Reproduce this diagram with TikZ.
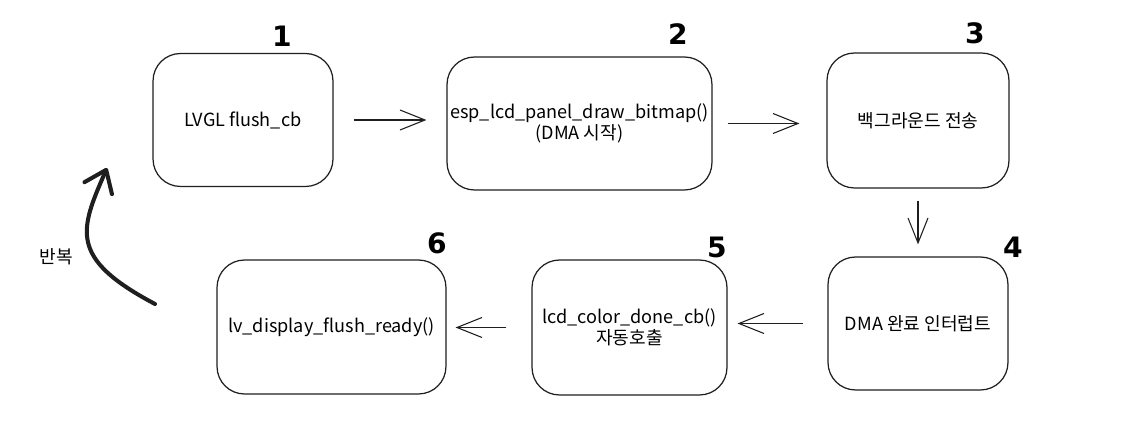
\documentclass[tikz,border=0pt]{standalone}
\usepackage{fontspec}
\setmainfont{Noto Sans CJK KR}
\newfontfamily\numfont{DejaVu Sans}
\usetikzlibrary{arrows.meta}
\definecolor{InkClr}{rgb}{0.12,0.12,0.12}

\begin{document}
\begin{tikzpicture}[x=0.02cm,y=-0.02cm,
  stepbox/.style={draw=InkClr,line width=0.7pt,rounded corners=0.55cm,
    align=center,inner sep=0pt,font=\fontsize{10.3}{12}\selectfont},
  flow/.style={draw=InkClr,line width=0.6pt,-{Straight Barb[length=5mm,width=4mm]}},
  stepnum/.style={font=\numfont\bfseries\fontsize{16}{16}\selectfont}]
\useasboundingbox (0,0) rectangle (1126,431);

% steps
\node[stepbox,minimum width=3.6cm,minimum height=2.66cm] (b1) at (243,120) {LVGL flush\_cb};
\node[stepbox,minimum width=5.3cm,minimum height=2.66cm] (b2) at (579.5,123.5) {esp\_lcd\_panel\_draw\_bitmap()\\(DMA 시작)};
\node[stepbox,minimum width=3.64cm,minimum height=2.7cm] (b3) at (918,120.5) {백그라운드 전송};
\node[stepbox,minimum width=3.6cm,minimum height=2.66cm] (b4) at (918,323.5) {DMA 완료 인터럽트};
\node[stepbox,minimum width=3.9cm,minimum height=2.7cm] (b5) at (629.5,327.5) {lcd\_color\_done\_cb()\\자동호출};
\node[stepbox,minimum width=4.58cm,minimum height=2.68cm] (b6) at (331.5,327) {lv\_display\_flush\_ready()};

% numbers
\node[stepnum] (n1) at (282,36) {1};
\node[stepnum] (n2) at (678,34) {2};
\node[stepnum] (n3) at (975,33) {3};
\node[stepnum] (n4) at (1013,247) {4};
\node[stepnum] (n5) at (717,247) {5};
\node[stepnum] (n6) at (437,243) {6};

% connectors
\draw[flow,shorten <=4mm,shorten >=4mm] (b1.east) -- (b1.east -| b2.west);
\draw[flow,shorten <=3mm,shorten >=5.4mm] (b2.east) -- (b2.east -| b3.west);
\draw[flow,shorten <=2.4mm,shorten >=2.4mm] (b3) -- (b4);
\draw[flow,shorten <=4.8mm,shorten >=2mm] (b4.west) -- (b4.west -| b5.east);
\draw[flow,shorten <=5mm,shorten >=1.8mm] (b5.west) -- (b5.west -| b6.east);

% loop back
\coordinate (r0) at (155,304);
\coordinate (r1) at (107,168);
\draw[draw=InkClr,line width=2.3pt,line cap=round,
  -{Straight Barb[length=4mm,width=6mm,round]}]
  (r0) .. controls (68,258) and (80,230) .. (r1);
\node[font=\fontsize{10.3}{12}\selectfont] (rep) at (56,257) {반복};

\end{tikzpicture}
\end{document}
